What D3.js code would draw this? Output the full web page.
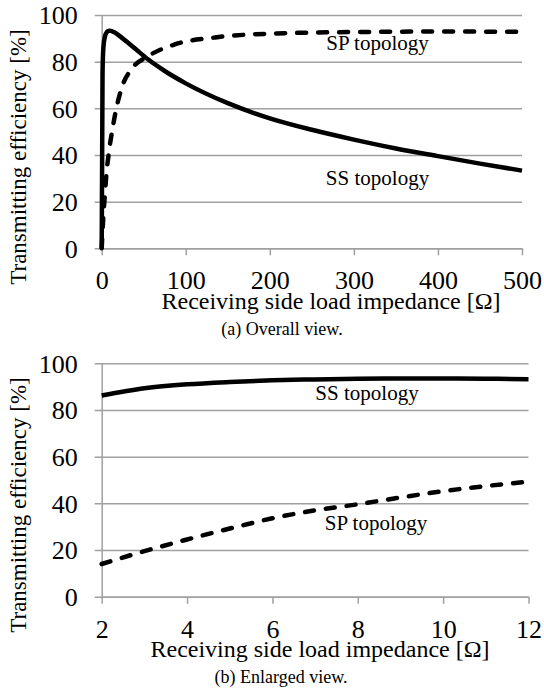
<!DOCTYPE html>
<meta charset="utf-8">
<html>

<head>
    <meta charset="utf-8">
    <title>Transmitting efficiency</title>
    <style>
        body { margin: 0; background: #fff; }
        svg { display: block; }
    </style>
</head>

<body>
    <script src="https://d3js.org/d3.v7.min.js"></script>
    <script>
        // tick labels
        const yTicks = [0, 20, 40, 60, 80, 100];
        const xTicksOverall = [0, 100, 200, 300, 400, 500];
        const xTicksEnlarged = [2, 4, 6, 8, 10, 12];

        // (a) overall view
        const ssLoadOverall = [0, 1, 2, 4, 6, 8, 10, 15, 20, 30, 40, 55, 75, 100, 150, 200, 250, 300, 350, 400, 450, 500];
        const ssEffOverall = [0, 75, 86, 91, 92.6, 93.2, 93.3, 92.6, 91.4, 88.5, 85.5, 81, 76, 70.7, 62.2, 55.7, 50.8, 46.6, 42.8, 39.5, 36.3, 33.3];
        const spLoadOverall = [0, 2, 4, 6, 8, 10, 12, 16, 24, 36, 55, 87, 135, 200, 300, 400, 500];
        const spEffOverall = [0, 14, 24, 33.5, 39.5, 45, 49.3, 57.5, 69, 77, 82.3, 87.4, 90.4, 92, 92.7, 92.9, 92.8];

        // (b) enlarged view
        const loadEnlarged = [2, 3, 4, 5, 6, 7, 8, 9, 10, 11, 12];
        const ssEffEnlarged = [86.2, 89.3, 91, 92, 92.7, 93.1, 93.4, 93.5, 93.5, 93.4, 93.2];
        const spEffEnlarged = [14, 19.5, 24.5, 29.2, 33.6, 37, 39.6, 42.5, 45.2, 47.4, 49.3];

        const fontFamily = "'Liberation Serif', 'Times New Roman', serif";

        const width = 544,
            height = 693;

        const svg = d3.select("body").append("svg")
            .attr("width", width)
            .attr("height", height)
            .attr("viewBox", `0 0 ${width} ${height}`)
            .attr("font-family", fontFamily);

        svg.append("rect")
            .attr("width", width)
            .attr("height", height)
            .attr("fill", "#fff");

        renderChart(svg.append("g").attr("class", "chartOverall"), {
            left: 101.7, top: 15, width: 420.3, height: 233.3,
            domainX: [0, 500], ticksX: xTicksOverall,
            series: [
                {x: ssLoadOverall, y: ssEffOverall, dashed: false},
                {x: spLoadOverall, y: spEffOverall, dashed: true}
            ],
            labels: [
                {text: "SP topology", x: 377.5, y: 50},
                {text: "SS topology", x: 377.5, y: 185}
            ],
            titleX: 331, titleYOffset: 60.7,
            yTitleCenter: 157,
            caption: "(a) Overall view.", captionX: 282
        });

        renderChart(svg.append("g").attr("class", "chartEnlarged"), {
            left: 101.7, top: 363.3, width: 426.8, height: 233.4,
            domainX: [2, 12], ticksX: xTicksEnlarged,
            series: [
                {x: loadEnlarged, y: ssEffEnlarged, dashed: false},
                {x: loadEnlarged, y: spEffEnlarged, dashed: true}
            ],
            labels: [
                {text: "SS topology", x: 367, y: 400},
                {text: "SP topology", x: 376, y: 530}
            ],
            titleX: 320, titleYOffset: 60.3,
            yTitleCenter: 505,
            caption: "(b) Enlarged view.", captionX: 281
        });

        function renderChart(root, opt) {
            // settings
            const gridColor = "#a0a0a0";
            const tickLen = 7;

            // scales
            const scaleX = d3.scaleLinear()
                .domain(opt.domainX)
                .range([0, opt.width]);
            const scaleY = d3.scaleLinear()
                .domain([0, 100])
                .range([opt.height, 0]);

            // groups
            const groupAxisY = root.append("g")
                .attr("class", "groupAxisY")
                .attr("transform", `translate(${opt.left}, ${opt.top})`);
            const groupAxisX = root.append("g")
                .attr("class", "groupAxisX")
                .attr("transform", `translate(${opt.left}, ${opt.top + opt.height})`);
            const groupMarks = root.append("g")
                .attr("class", "groupMarks")
                .attr("transform", `translate(${opt.left}, ${opt.top})`);
            const groupTexts = root.append("g")
                .attr("class", "groupTexts");

            // y axis + gridlines
            groupAxisY.call(d3.axisLeft(scaleY).tickValues(yTicks).tickSize(tickLen).tickSizeOuter(0))
                .attr("font-family", fontFamily)
                .attr("font-size", 26)
                .call(g => g.selectAll(".tick line")
                    .attr("x1", -tickLen)
                    .attr("x2", opt.width)
                    .attr("stroke", gridColor)
                    .attr("stroke-width", 1.5))
                .call(g => g.select(".domain")
                    .attr("stroke", gridColor)
                    .attr("stroke-width", 1.5))
                .call(g => g.selectAll(".tick text")
                    .attr("x", -24)
                    .attr("dy", "0.34em")
                    .attr("fill", "#000"));

            // x axis
            groupAxisX.call(d3.axisBottom(scaleX).tickValues(opt.ticksX).tickSize(tickLen).tickSizeOuter(0))
                .attr("font-family", fontFamily)
                .attr("font-size", 26)
                .call(g => g.selectAll(".tick line")
                    .attr("stroke", gridColor)
                    .attr("stroke-width", 1.5))
                .call(g => g.select(".domain")
                    .attr("stroke", gridColor)
                    .attr("stroke-width", 1.5))
                .call(g => g.selectAll(".tick text")
                    .attr("y", 41)
                    .attr("dy", null)
                    .attr("fill", "#000"));

            // curves
            for (const s of opt.series) {
                const points = s.x.map((x, i) => [x, s.y[i]]);
                const line = d3.line()
                    .x(d => scaleX(d[0]))
                    .y(d => scaleY(d[1]))
                    .curve(d3.curveMonotoneX);
                groupMarks.append("path")
                    .datum(points)
                    .attr("fill", "none")
                    .attr("stroke", "#000")
                    .attr("stroke-width", 4.5)
                    .attr("stroke-linecap", s.dashed ? "round" : "butt")
                    .attr("stroke-linejoin", "round")
                    .attr("stroke-dasharray", s.dashed ? "9,12" : null)
                    .attr("d", line);
            }

            // series labels
            groupTexts.selectAll("text.label")
                .data(opt.labels)
                .join("text")
                .attr("class", "label")
                .attr("x", d => d.x)
                .attr("y", d => d.y)
                .attr("text-anchor", "middle")
                .attr("font-size", 21)
                .text(d => d.text);

            // axis titles
            groupTexts.append("text")
                .attr("x", opt.titleX)
                .attr("y", opt.top + opt.height + opt.titleYOffset)
                .attr("text-anchor", "middle")
                .attr("font-size", 24)
                .text("Receiving side load impedance [Ω]");
            groupTexts.append("text")
                .attr("transform", `translate(26, ${opt.yTitleCenter}) rotate(-90)`)
                .attr("text-anchor", "middle")
                .attr("font-size", 23)
                .text("Transmitting efficiency [%]");

            // caption
            groupTexts.append("text")
                .attr("x", opt.captionX)
                .attr("y", opt.top + opt.height + 86.7)
                .attr("text-anchor", "middle")
                .attr("font-size", 18)
                .text(opt.caption);
        }
    </script>
</body>

</html>
